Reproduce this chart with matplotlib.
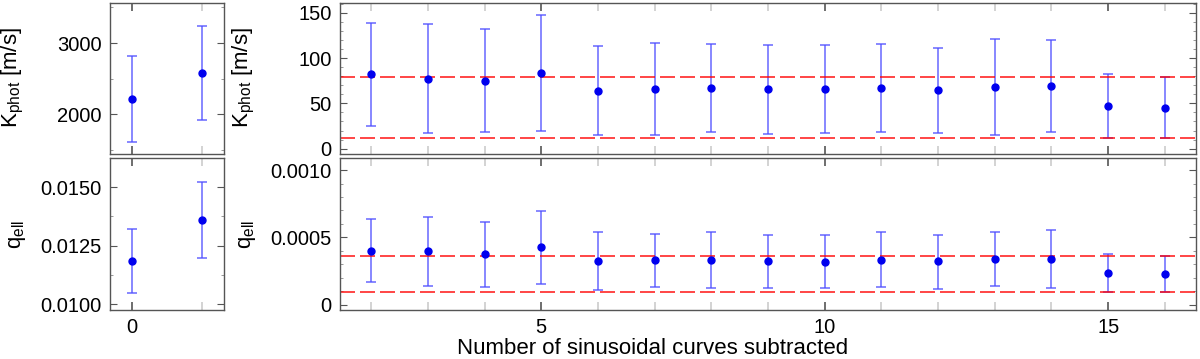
import matplotlib
matplotlib.use("Agg")
import matplotlib.pyplot as plt
from matplotlib.ticker import MultipleLocator, FormatStrFormatter

plt.rcParams['font.family'] = ['Liberation Sans', 'DejaVu Sans']
plt.rcParams['mathtext.fontset'] = 'custom'
plt.rcParams['mathtext.rm'] = 'Liberation Sans'
plt.rcParams['mathtext.it'] = 'Liberation Sans:italic'

# left column: before subtraction
n_left = [0, 1]
k_left = [2208, 2578]
k_left_lo = [1602, 1915]
k_left_hi = [2810, 3242]
q_left = [0.01184, 0.01361]
q_left_lo = [0.01046, 0.01199]
q_left_hi = [0.01323, 0.01524]

# right column: number of sinusoids subtracted
n_right = [2, 3, 4, 5, 6, 7, 8, 9, 10, 11, 12, 13, 14, 15, 16]
k_right = [82.4, 77.2, 75.0, 83.8, 64.0, 65.8, 66.9, 65.4, 65.8, 67.3, 64.3, 68.0, 69.5, 46.7, 45.2]
k_right_lo = [25.0, 16.9, 18.0, 19.1, 14.7, 14.7, 18.4, 15.8, 16.9, 18.8, 16.9, 15.1, 18.8, 12.1, 12.1]
k_right_hi = [139.0, 137.5, 132.0, 147.8, 113.6, 116.5, 115.4, 115.0, 114.7, 115.8, 111.8, 121.3, 120.2, 82.0, 79.0]
q_right = [0.000402, 0.000397, 0.000373, 0.000427, 0.000323, 0.000331, 0.000331, 0.000323,
           0.000319, 0.000333, 0.000321, 0.000338, 0.000341, 0.000232, 0.000225]
q_right_lo = [0.000168, 0.000141, 0.000133, 0.000156, 0.000109, 0.000131, 0.000123, 0.000126,
              0.000121, 0.000131, 0.000119, 0.000136, 0.000126, 0.000091, 0.000091]
q_right_hi = [0.000635, 0.000649, 0.000615, 0.000699, 0.000538, 0.000528, 0.000541, 0.000521,
              0.000516, 0.000543, 0.000521, 0.000541, 0.000553, 0.000373, 0.000358]

k_limits = [79, 12]
q_limits = [0.000363, 0.000091]

fig = plt.figure(figsize=(12, 3.59), dpi=100)
ax_kl = fig.add_axes([0.0917, 0.571, 0.095, 0.4206])
ax_ql = fig.add_axes([0.0917, 0.1365, 0.095, 0.4235])
ax_kr = fig.add_axes([0.2833, 0.571, 0.7134, 0.4206])
ax_qr = fig.add_axes([0.2833, 0.1365, 0.7134, 0.4235])


def draw(ax, x, y, lo, hi):
    err = [[v - l for v, l in zip(y, lo)], [h - v for v, h in zip(y, hi)]]
    ax.errorbar(x, y, yerr=err, fmt='none', ecolor=(0.3, 0.3, 1.0, 0.85),
                elinewidth=1.1, capsize=3.5, capthick=1.1)
    ax.plot(x, y, 'o', color='#0000ee', markersize=5, zorder=3)


def style(ax, ymajor, yminor):
    for s in ax.spines.values():
        s.set_color('#555555')
        s.set_linewidth(1.0)
    ax.xaxis.set_major_locator(MultipleLocator(5))
    ax.xaxis.set_minor_locator(MultipleLocator(1))
    ax.yaxis.set_major_locator(MultipleLocator(ymajor))
    ax.yaxis.set_minor_locator(MultipleLocator(yminor))
    ax.tick_params(which='both', direction='in', top=True, right=True,
                   labelsize=14.5, pad=6)
    ax.tick_params(axis='y', which='major', length=5, color='#555555')
    ax.tick_params(axis='y', which='minor', length=2.5, color='#888888')
    ax.tick_params(axis='x', which='major', length=6, color='#555555', width=1.2)
    ax.tick_params(axis='x', which='minor', length=6, color='#cccccc', width=1.2)


draw(ax_kl, n_left, k_left, k_left_lo, k_left_hi)
draw(ax_ql, n_left, q_left, q_left_lo, q_left_hi)
draw(ax_kr, n_right, k_right, k_right_lo, k_right_hi)
draw(ax_qr, n_right, q_right, q_right_lo, q_right_hi)

for v in k_limits:
    ax_kr.axhline(v, color='red', alpha=0.85, linestyle=(0, (9, 3)), linewidth=1.2)
for v in q_limits:
    ax_qr.axhline(v, color='red', alpha=0.85, linestyle=(0, (9, 3)), linewidth=1.2)

style(ax_kl, 1000, 500)
style(ax_ql, 0.0025, 0.00125)
style(ax_kr, 50, 10)
style(ax_qr, 0.0005, 0.0001)

ax_kl.set_xlim(-0.32, 1.32)
ax_ql.set_xlim(-0.32, 1.32)
ax_kr.set_xlim(1.45, 16.55)
ax_qr.set_xlim(1.45, 16.55)

ax_kl.set_ylim(1437, 3563)
ax_ql.set_ylim(0.00975, 0.01625)
ax_kr.set_ylim(-6, 161)
ax_qr.set_ylim(-0.00004, 0.00109)

ax_ql.yaxis.set_major_formatter(FormatStrFormatter('%.4f'))
ax_qr.yaxis.set_major_formatter(
    plt.FuncFormatter(lambda v, p: '0' if abs(v) < 1e-12 else '%.4f' % v))

ax_kl.tick_params(labelbottom=False)
ax_kr.tick_params(labelbottom=False)

ylab = r'K$_{\mathrm{phot}}$ [m/s]'
qlab = r'q$_{\mathrm{ell}}$'
fig.text(13 / 1200, 1 - 78 / 359, ylab, rotation=90, ha='center', va='center', fontsize=16)
fig.text(244 / 1200, 1 - 78 / 359, ylab, rotation=90, ha='center', va='center', fontsize=16)
fig.text(17 / 1200, 1 - 234 / 359, qlab, rotation=90, ha='center', va='center', fontsize=16)
fig.text(248 / 1200, 1 - 234 / 359, qlab, rotation=90, ha='center', va='center', fontsize=16)

fig.text(653 / 1200, 1 - 348 / 359, 'Number of sinusoidal curves subtracted',
         ha='center', va='center', fontsize=16)

fig.savefig('out.png', dpi=100)
